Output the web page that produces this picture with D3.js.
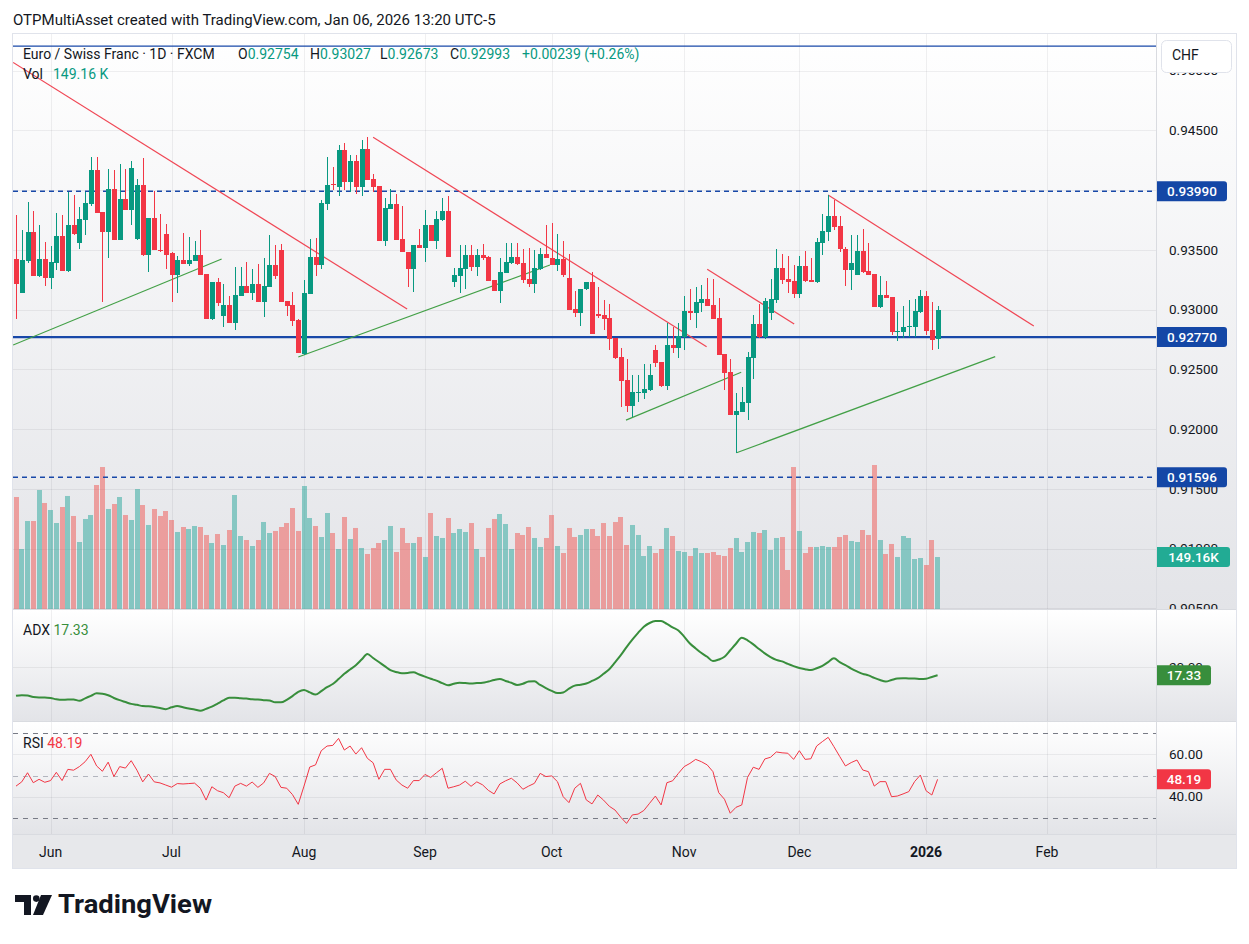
<!DOCTYPE html>
<html>
<head>
<meta charset="utf-8">
<script src="https://cdn.jsdelivr.net/npm/d3@7"></script>
<style>
  body { margin: 0; background: #fff; }
  svg text { font-family: Roboto, "Liberation Sans", "DejaVu Sans", sans-serif; }
</style>
</head>
<body>
<div id="chart"></div>
<script>
// EUR/CHF daily, 23 May 2025 .. 6 Jan 2026 (161 bars, index 0 = first visible bar)
const opens = [
  0.93423,0.93141,0.93409,0.93649,0.93283,0.93423,0.93267,0.93392,0.93615,0.93325,
  0.93707,0.93560,0.93752,0.93886,0.94168,0.93816,0.93649,0.94009,0.93585,0.93925,
  0.93833,0.93590,0.94042,0.93456,0.93766,0.93498,0.93632,0.93473,0.93289,0.93415,
  0.93384,0.93409,0.93456,0.93297,0.92921,0.93230,0.92949,0.93038,0.92887,0.93116,
  0.93197,0.93138,0.93214,0.93063,0.93189,0.93373,0.93498,0.93071,0.93038,0.92913,
  0.92628,0.93130,0.93440,0.93375,0.93886,0.94048,0.94025,0.94335,0.94067,0.94243,
  0.94025,0.94343,0.94092,0.94034,0.93574,0.93841,0.93883,0.93590,0.93481,0.93339,
  0.93540,0.93515,0.93707,0.93574,0.93749,0.93825,0.93230,0.93283,0.93342,0.93456,
  0.93356,0.93456,0.93440,0.93247,0.93158,0.93309,0.93392,0.93440,0.93389,0.93256,
  0.93217,0.93339,0.93465,0.93431,0.93373,0.93423,0.93264,0.93005,0.92971,0.93172,
  0.93230,0.92963,0.92954,0.92929,0.92762,0.92603,0.92410,0.92193,0.92307,0.92302,
  0.92327,0.92661,0.92561,0.92360,0.92703,0.92681,0.92773,0.92988,0.92971,0.93058,
  0.93088,0.93038,0.92929,0.92628,0.92477,0.92118,0.92143,0.92218,0.92595,0.92879,
  0.92770,0.92971,0.93080,0.93348,0.93256,0.93239,0.93130,0.93364,0.93247,0.93230,
  0.93557,0.93652,0.93783,0.93699,0.93507,0.93331,0.93289,0.93490,0.93322,0.93297,
  0.93021,0.93122,0.93105,0.92815,0.92812,0.92857,0.92854,0.92979,0.93113,0.92829,
  0.92754
];
const highs = [
  0.93791,0.93666,0.93900,0.93825,0.93707,0.93565,0.93532,0.93805,0.93791,0.93983,
  0.93958,0.93858,0.93983,0.94276,0.94276,0.93820,0.94176,0.94168,0.94218,0.94176,
  0.94243,0.94092,0.94268,0.93766,0.93992,0.93799,0.93716,0.93478,0.93448,0.93640,
  0.93607,0.93574,0.93666,0.93300,0.93232,0.93264,0.93214,0.93113,0.93356,0.93356,
  0.93398,0.93339,0.93381,0.93431,0.93624,0.93540,0.93548,0.93075,0.93147,0.92917,
  0.93247,0.93590,0.93599,0.93920,0.94276,0.94193,0.94377,0.94393,0.94293,0.94293,
  0.94419,0.94444,0.94134,0.94038,0.93933,0.94009,0.93967,0.93866,0.93485,0.93540,
  0.93674,0.93833,0.93710,0.93825,0.93933,0.93950,0.93348,0.93540,0.93540,0.93540,
  0.93507,0.93548,0.93444,0.93250,0.93431,0.93557,0.93557,0.93557,0.93507,0.93515,
  0.93498,0.93515,0.93707,0.93724,0.93632,0.93574,0.93465,0.93155,0.93175,0.93232,
  0.93314,0.93189,0.93080,0.93046,0.92766,0.92678,0.92586,0.92452,0.92452,0.92544,
  0.92544,0.92703,0.92565,0.92887,0.92854,0.92887,0.93113,0.93172,0.93189,0.93205,
  0.93264,0.93256,0.93097,0.92632,0.92586,0.92302,0.92352,0.92645,0.92954,0.93046,
  0.93097,0.93256,0.93507,0.93465,0.93448,0.93373,0.93448,0.93490,0.93431,0.93599,
  0.93799,0.93958,0.93917,0.93783,0.93526,0.93624,0.93624,0.93674,0.93557,0.93300,
  0.93281,0.93239,0.93108,0.92979,0.93030,0.93080,0.93088,0.93163,0.93155,0.93063,
  0.93027
];
const lows = [
  0.92921,0.93138,0.93387,0.93280,0.93275,0.93200,0.93175,0.93331,0.93320,0.93317,
  0.93628,0.93509,0.93624,0.93866,0.93805,0.93066,0.93431,0.93580,0.93582,0.93830,
  0.93707,0.93585,0.93450,0.93314,0.93495,0.93485,0.93339,0.93063,0.93138,0.93380,
  0.93364,0.93405,0.93285,0.92918,0.92913,0.93030,0.92857,0.92885,0.92829,0.93113,
  0.93136,0.93083,0.93060,0.92938,0.93186,0.93256,0.93060,0.92946,0.92862,0.92633,
  0.92620,0.93127,0.93283,0.93339,0.93833,0.94000,0.93950,0.94000,0.93983,0.93967,
  0.93950,0.94080,0.93983,0.93570,0.93532,0.93838,0.93580,0.93478,0.93189,0.93147,
  0.93515,0.93398,0.93570,0.93507,0.93745,0.93436,0.93189,0.93138,0.93175,0.93322,
  0.93281,0.93415,0.93235,0.93155,0.93055,0.93306,0.93381,0.93375,0.93222,0.93189,
  0.93138,0.93331,0.93428,0.93370,0.93322,0.93272,0.92993,0.92938,0.92862,0.93163,
  0.92792,0.92929,0.92829,0.92661,0.92590,0.92185,0.92143,0.92101,0.92226,0.92252,
  0.92320,0.92519,0.92355,0.92327,0.92636,0.92595,0.92661,0.92913,0.92846,0.92982,
  0.93028,0.92918,0.92616,0.92327,0.92114,0.91800,0.92140,0.92076,0.92419,0.92766,
  0.92753,0.92913,0.93055,0.93214,0.93138,0.93097,0.93097,0.93230,0.93228,0.93226,
  0.93456,0.93574,0.93666,0.93484,0.93197,0.93163,0.93285,0.93310,0.93285,0.93018,
  0.93013,0.93094,0.92787,0.92737,0.92762,0.92773,0.92770,0.92975,0.92787,0.92661,
  0.92673
];
const closes = [
  0.93217,0.93415,0.93649,0.93283,0.93423,0.93267,0.93398,0.93615,0.93325,0.93707,
  0.93632,0.93758,0.93891,0.94168,0.93811,0.93649,0.94009,0.93585,0.93925,0.93833,
  0.94184,0.94042,0.93456,0.93766,0.93498,0.93490,0.93456,0.93289,0.93415,0.93384,
  0.93415,0.93456,0.93289,0.92921,0.93230,0.93058,0.93038,0.92887,0.93122,0.93197,
  0.93138,0.93214,0.93063,0.93197,0.93373,0.93281,0.93063,0.93030,0.92904,0.92636,
  0.93138,0.93440,0.93373,0.93891,0.94042,0.94042,0.94335,0.94067,0.94243,0.94025,
  0.94343,0.94084,0.94025,0.93574,0.93850,0.93883,0.93582,0.93481,0.93339,0.93540,
  0.93518,0.93707,0.93574,0.93758,0.93825,0.93440,0.93289,0.93348,0.93456,0.93356,
  0.93456,0.93431,0.93239,0.93158,0.93314,0.93398,0.93440,0.93381,0.93247,0.93217,
  0.93348,0.93465,0.93431,0.93373,0.93423,0.93289,0.92996,0.92971,0.93172,0.93230,
  0.92795,0.92946,0.92921,0.92753,0.92595,0.92402,0.92193,0.92310,0.92312,0.92335,
  0.92452,0.92553,0.92360,0.92703,0.92681,0.92779,0.92988,0.92971,0.93063,0.93088,
  0.93032,0.92921,0.92620,0.92469,0.92118,0.92151,0.92226,0.92603,0.92879,0.92770,
  0.93071,0.93088,0.93348,0.93247,0.93233,0.93130,0.93364,0.93239,0.93230,0.93565,
  0.93657,0.93783,0.93693,0.93507,0.93331,0.93389,0.93490,0.93314,0.93289,0.93021,
  0.93122,0.93097,0.92812,0.92820,0.92854,0.92862,0.92988,0.93113,0.92820,0.92745,
  0.92993
];
// volume in thousands
const volumes = [
  321.3,172.1,252.4,252.4,341.4,304.1,284.0,246.7,292.6,324.2,
  266.8,192.2,258.2,269.6,355.7,407.3,286.9,301.2,321.3,269.6,
  255.3,344.2,298.3,241.0,286.9,266.8,281.1,255.3,220.9,235.2,
  229.5,238.1,235.2,212.3,189.3,215.1,183.6,226.6,327.0,209.4,
  197.9,180.7,197.9,249.6,218.0,223.8,235.2,246.7,289.7,223.8,
  352.8,261.0,238.1,206.5,275.4,218.0,172.1,263.9,200.8,232.4,
  175.0,157.8,175.0,189.3,197.9,238.1,163.5,232.4,189.3,189.3,
  206.5,149.2,275.4,209.4,203.7,261.0,218.0,229.5,220.9,246.7,
  172.1,149.2,232.4,258.2,272.5,243.8,172.1,218.0,212.3,235.2,
  203.7,177.9,203.7,269.6,180.7,160.6,232.4,206.5,212.3,229.5,
  229.5,209.4,246.7,209.4,249.6,263.9,183.6,241.0,212.3,152.0,
  180.7,160.6,172.1,232.4,209.4,166.4,163.5,152.0,175.0,160.6,
  160.6,163.5,154.9,152.0,175.0,203.7,163.5,192.2,220.9,218.0,
  226.6,169.2,203.7,206.5,111.9,407.3,223.8,160.6,177.9,177.9,
  180.7,177.9,177.9,206.5,212.3,195.1,192.2,226.6,212.3,413.1,
  197.9,157.8,186.5,149.2,209.4,203.7,143.4,146.3,126.2,197.9,
  149.16
];
const adxValues = [
  10.7,10.9,10.8,10.3,10.2,10.2,10.0,9.6,9.4,9.5,
  9.5,9.1,9.9,10.7,11.5,11.4,10.9,10.0,9.3,8.7,
  8.1,7.8,7.4,7.3,7.1,6.8,6.4,7.0,7.4,7.0,
  6.6,6.3,5.9,6.5,7.2,8.2,9.2,10.1,10.1,9.9,
  9.8,9.6,9.5,9.3,9.2,8.6,8.6,9.4,10.6,12.0,
  12.6,11.8,11.1,12.2,13.5,14.5,16.1,17.8,19.2,20.6,
  22.4,24.2,22.9,21.6,20.3,19.0,18.4,18.0,18.1,18.3,
  17.6,16.9,16.2,15.6,14.8,14.1,14.6,14.9,14.8,14.7,
  14.8,14.9,15.3,15.8,16.1,15.5,14.9,14.2,14.6,15.3,
  15.4,14.2,13.2,12.3,11.6,11.8,13.0,14.0,14.3,14.7,
  15.5,16.4,17.8,19.3,21.5,23.8,26.4,28.8,31.0,33.0,
  34.2,34.8,34.8,33.9,32.8,31.8,29.8,27.6,26.0,24.5,
  23.3,21.9,22.4,23.3,25.4,27.5,29.4,28.6,27.3,25.8,
  24.4,23.2,22.3,21.8,21.0,20.3,19.7,19.3,19.0,19.6,
  20.4,21.6,22.8,21.6,20.6,19.5,18.6,17.8,17.3,16.5,
  15.8,15.3,15.8,16.3,16.4,16.3,16.3,16.1,16.2,16.8,
  17.33
];
const rsiValues = [
  45.0,47.0,51.3,46.6,48.2,46.8,47.6,51.5,47.6,52.9,
  52.5,54.2,56.5,60.0,54.5,52.0,56.3,49.5,54.2,53.5,
  57.0,52.5,47.0,50.7,47.0,46.5,45.5,44.5,46.2,46.0,
  46.2,46.4,44.0,38.4,44.7,42.8,41.9,39.5,45.0,46.3,
  45.0,46.9,44.4,46.5,51.0,49.5,44.4,44.0,41.0,36.4,
  45.0,54.0,55.0,61.7,63.9,64.2,67.5,62.0,63.9,60.1,
  63.1,58.1,56.0,48.2,52.9,52.9,47.9,45.5,44.0,47.6,
  47.6,50.5,49.1,51.3,53.4,44.0,44.7,45.5,47.3,44.9,
  47.0,45.6,43.0,41.3,46.0,47.5,48.7,46.5,43.5,45.0,
  46.3,51.0,49.5,49.8,47.1,40.0,37.2,44.0,46.3,38.5,
  36.6,40.8,38.4,35.5,33.7,30.3,27.4,31.4,31.8,33.5,
  36.9,40.3,36.1,46.6,47.5,51.0,54.2,55.7,57.6,56.5,
  55.0,51.8,41.9,38.8,32.2,35.0,36.1,49.1,53.9,52.9,
  57.8,58.6,61.1,60.7,60.5,57.6,61.7,57.6,57.9,63.9,
  66.0,68.0,63.6,59.0,54.5,56.1,57.3,52.6,51.8,45.0,
  47.1,47.1,40.0,40.3,41.3,42.4,47.1,50.2,42.8,40.8,
  48.19
];

// time axis: label and bar index of first bar of that month
const monthLabels = ['Jun', 'Jul', 'Aug', 'Sep', 'Oct', 'Nov', 'Dec', '2026', 'Feb'];
const monthIndex = [6, 27, 50, 71, 93, 116, 136, 158, 179];

const priceTicks = [0.95, 0.945, 0.94, 0.935, 0.93, 0.925, 0.92, 0.915, 0.91, 0.905];

// horizontal levels drawn on the chart
const levelPrices = [0.95205, 0.9399, 0.9277, 0.91596];

// trend lines: [barIndex1, price1, barIndex2, price2]
const redTrendLines = [
  [-0.5, 0.95068, 67.9, 0.93004],
  [62.0, 0.94441, 119.9, 0.92689],
  [120.0, 0.93337, 135.1, 0.92879],
  [141.0, 0.93958, 176.7, 0.92862]
];
const greenTrendLines = [
  [-0.5, 0.92703, 35.7, 0.93423],
  [49.0, 0.92603, 92.7, 0.93373],
  [105.9, 0.92075, 125.9, 0.92475],
  [125.1, 0.91802, 170.0, 0.92606]
];

const UP = '#089981', DOWN = '#f23645';
const BLUE = '#1848a8';
const LEFT = 13, PANE_R = 1156, AXIS_R = 1236;
const MAIN = [34, 609], ADX = [610, 721], RSI = [722, 834], TIME = [835, 868];

const svg = d3.select('#chart').append('svg')
  .attr('width', 1249).attr('height', 944)
  .style('display', 'block');

const defs = svg.append('defs');
const grad = defs.append('linearGradient').attr('id', 'bg')
  .attr('x1', 0).attr('y1', 0).attr('x2', 0).attr('y2', 1);
grad.append('stop').attr('offset', '0%').attr('stop-color', '#ffffff');
grad.append('stop').attr('offset', '100%').attr('stop-color', '#e3e4e8');

function clip(id, y0, y1) {
  defs.append('clipPath').attr('id', id).append('rect')
    .attr('x', LEFT).attr('y', y0).attr('width', PANE_R - LEFT).attr('height', y1 - y0);
}
clip('clipMain', MAIN[0], MAIN[1]);
clip('clipAdx', ADX[0], ADX[1]);
clip('clipRsi', RSI[0], RSI[1]);
defs.append('clipPath').attr('id', 'clipAxis').append('rect')
  .attr('x', PANE_R).attr('y', MAIN[0]).attr('width', AXIS_R - PANE_R).attr('height', MAIN[1] - MAIN[0]);

// pane backgrounds
[MAIN, ADX, RSI].forEach((p) => {
  svg.append('rect').attr('x', LEFT).attr('y', p[0]).attr('width', AXIS_R - LEFT)
    .attr('height', p[1] - p[0]).attr('fill', 'url(#bg)');
});
svg.append('rect').attr('x', LEFT).attr('y', TIME[0]).attr('width', AXIS_R - LEFT)
  .attr('height', TIME[1] - TIME[0]).attr('fill', '#e7e8eb');

// scales
const x = d3.scaleLinear().domain([0, 179]).range([16, 16 + 179 * 5.76]);
const y = d3.scaleLinear().domain([0.90494, 0.95306]).range([MAIN[1], MAIN[0]]);
const yVol = d3.scaleLinear().domain([0, 413.1]).range([MAIN[1], 465]);
const yAdx = d3.scaleLinear().domain([0, 40]).range([729, 605]);
const yRsi = d3.scaleLinear().domain([0, 100]).range([881.5, 669.5]);

const bars = opens.map((o, i) => ({
  i, o, h: highs[i], l: lows[i], c: closes[i], v: volumes[i],
  up: closes[i] >= o
}));

const gridColor = 'rgba(42,46,57,0.07)';

// vertical grid lines in all panes
const grid = svg.append('g');
monthIndex.forEach((mi) => {
  const gx = Math.round(x(mi)) + 0.5;
  [MAIN, ADX, RSI].forEach((p) => {
    grid.append('line').attr('x1', gx).attr('x2', gx).attr('y1', p[0]).attr('y2', p[1])
      .attr('stroke', gridColor);
  });
});
// horizontal grid
priceTicks.forEach((t) => {
  const gy = Math.round(y(t)) + 0.5;
  if (gy > MAIN[0] && gy < MAIN[1]) {
    grid.append('line').attr('x1', LEFT).attr('x2', PANE_R).attr('y1', gy).attr('y2', gy)
      .attr('stroke', gridColor);
  }
});
grid.append('line').attr('x1', LEFT).attr('x2', PANE_R)
  .attr('y1', Math.round(yAdx(20)) + 0.5).attr('y2', Math.round(yAdx(20)) + 0.5).attr('stroke', gridColor);
[60, 40].forEach((t) => {
  const gy = Math.round(yRsi(t)) + 0.5;
  grid.append('line').attr('x1', LEFT).attr('x2', PANE_R).attr('y1', gy).attr('y2', gy).attr('stroke', gridColor);
});

// main pane content
const main = svg.append('g').attr('clip-path', 'url(#clipMain)');

main.append('g').selectAll('rect').data(bars).join('rect')
  .attr('x', (d) => Math.round(x(d.i) - 2.4))
  .attr('width', 5)
  .attr('y', (d) => yVol(d.v))
  .attr('height', (d) => MAIN[1] - yVol(d.v))
  .attr('fill', (d) => (d.up ? 'rgba(38,166,154,0.5)' : 'rgba(239,83,80,0.5)'));

// levels
const lv = main.append('g');
lv.append('line').attr('x1', LEFT).attr('x2', PANE_R)
  .attr('y1', y(levelPrices[0])).attr('y2', y(levelPrices[0]))
  .attr('stroke', BLUE).attr('stroke-width', 1.3);
[1, 3].forEach((k) => {
  lv.append('line').attr('x1', LEFT).attr('x2', PANE_R)
    .attr('y1', y(levelPrices[k])).attr('y2', y(levelPrices[k]))
    .attr('stroke', BLUE).attr('stroke-width', 1.6).attr('stroke-dasharray', '5,4');
});
lv.append('line').attr('x1', LEFT).attr('x2', PANE_R)
  .attr('y1', y(levelPrices[2])).attr('y2', y(levelPrices[2]))
  .attr('stroke', BLUE).attr('stroke-width', 2.2);

// trend lines
function trend(g, arr, color) {
  g.selectAll(null).data(arr).join('line')
    .attr('x1', (d) => x(d[0])).attr('y1', (d) => y(d[1]))
    .attr('x2', (d) => x(d[2])).attr('y2', (d) => y(d[3]))
    .attr('stroke', color).attr('stroke-width', 1.2);
}
trend(main.append('g'), redTrendLines, '#f04654');
trend(main.append('g'), greenTrendLines, '#43a047');

// candles
const cg = main.append('g').attr('shape-rendering', 'crispEdges');
cg.selectAll('rect.wick').data(bars).join('rect').attr('class', 'wick')
  .attr('x', (d) => Math.round(x(d.i)))
  .attr('width', 1)
  .attr('y', (d) => y(d.h))
  .attr('height', (d) => Math.max(1, y(d.l) - y(d.h)))
  .attr('fill', (d) => (d.up ? UP : DOWN));
cg.selectAll('rect.body').data(bars).join('rect').attr('class', 'body')
  .attr('x', (d) => Math.round(x(d.i)) - 2)
  .attr('width', 5)
  .attr('y', (d) => y(Math.max(d.o, d.c)))
  .attr('height', (d) => Math.max(1, Math.abs(y(d.o) - y(d.c))))
  .attr('fill', (d) => (d.up ? UP : DOWN));

// ADX
const adxG = svg.append('g').attr('clip-path', 'url(#clipAdx)');
adxG.append('path').datum(adxValues)
  .attr('d', d3.line().x((d, i) => x(i)).y((d) => yAdx(d)).curve(d3.curveMonotoneX))
  .attr('fill', 'none').attr('stroke', '#388e3c').attr('stroke-width', 2);

// RSI
const rsiG = svg.append('g').attr('clip-path', 'url(#clipRsi)');
[[70, '#787b86'], [50, '#b2b5be'], [30, '#787b86']].forEach(([lvl, col]) => {
  const ly = Math.round(yRsi(lvl)) + 0.5;
  rsiG.append('line').attr('x1', LEFT).attr('x2', PANE_R).attr('y1', ly).attr('y2', ly)
    .attr('stroke', col).attr('stroke-dasharray', '5,5');
});
rsiG.append('path').datum(rsiValues)
  .attr('d', d3.line().x((d, i) => x(i)).y((d) => yRsi(d)))
  .attr('fill', 'none').attr('stroke', '#f23645').attr('stroke-width', 1);

// separators and frame
const sep = svg.append('g').attr('stroke', '#d9dbe0').attr('shape-rendering', 'crispEdges');
[MAIN[1], ADX[1], RSI[1]].forEach((sy) => {
  sep.append('line').attr('x1', LEFT).attr('x2', AXIS_R).attr('y1', sy + 0.5).attr('y2', sy + 0.5);
});
sep.append('line').attr('x1', PANE_R + 0.5).attr('x2', PANE_R + 0.5).attr('y1', MAIN[0]).attr('y2', TIME[1]);
svg.append('rect').attr('x', LEFT - 0.5).attr('y', MAIN[0] - 0.5)
  .attr('width', AXIS_R - LEFT + 1).attr('height', TIME[1] - MAIN[0] + 1)
  .attr('fill', 'none').attr('stroke', '#e0e3eb');

// price axis ticks (some sit under the level tags, as on the original)
const axisG = svg.append('g').attr('clip-path', 'url(#clipAxis)');
axisG.selectAll('text').data(priceTicks).join('text')
  .attr('x', 1169).attr('y', (d) => y(d)).attr('dy', '0.35em')
  .attr('font-size', 13.5).attr('fill', '#131722')
  .text((d) => d3.format('.5f')(d));

svg.append('text').attr('x', 1169).attr('y', yAdx(20)).attr('dy', '0.35em')
  .attr('font-size', 13.5).attr('fill', '#131722').text('20.00');
[60, 40].forEach((t) => {
  svg.append('text').attr('x', 1169).attr('y', yRsi(t)).attr('dy', '0.35em')
    .attr('font-size', 13.5).attr('fill', '#131722').text(d3.format('.2f')(t));
});

function tag(cy, txt, color, w) {
  const g = svg.append('g');
  g.append('path')
    .attr('d', `M${PANE_R + 1},${cy - 10} h${w - 3} a3,3 0 0 1 3,3 v14 a3,3 0 0 1 -3,3 h${-(w - 3)} Z`)
    .attr('fill', color);
  g.append('text').attr('x', PANE_R + 1 + w / 2).attr('y', cy).attr('dy', '0.35em')
    .attr('text-anchor', 'middle').attr('font-size', 13.5).attr('font-weight', 500)
    .attr('fill', '#fff').text(txt);
}
tag(y(levelPrices[1]), d3.format('.5f')(levelPrices[1]), '#1447a6', 70);
tag(y(levelPrices[2]), d3.format('.5f')(levelPrices[2]), '#1447a6', 70);
tag(y(levelPrices[3]), d3.format('.5f')(levelPrices[3]), '#1447a6', 70);
tag(yVol(volumes[volumes.length - 1]), d3.format('.2f')(volumes[volumes.length - 1]) + 'K', '#22ab94', 73);
tag(yAdx(adxValues[adxValues.length - 1]), d3.format('.2f')(adxValues[adxValues.length - 1]), '#388e3c', 54);
tag(yRsi(rsiValues[rsiValues.length - 1]), d3.format('.2f')(rsiValues[rsiValues.length - 1]), '#f23645', 54);

// currency box (covers most of the top tick, as on the original)
svg.append('rect').attr('x', 1161.5).attr('y', 40.5).attr('width', 70).attr('height', 32).attr('rx', 5)
  .attr('fill', '#fff').attr('stroke', '#e0e3eb');
svg.append('text').attr('x', 1172).attr('y', 55).attr('dy', '0.35em')
  .attr('font-size', 14).attr('fill', '#131722').text('CHF');

// time axis labels
svg.append('g').selectAll('text').data(monthLabels).join('text')
  .attr('x', (d, i) => x(monthIndex[i])).attr('y', 852).attr('dy', '0.35em')
  .attr('text-anchor', 'middle').attr('font-size', 14)
  .attr('font-weight', (d) => (d === '2026' ? 700 : 400))
  .attr('fill', '#131722').text((d) => d);

// legends
const last = bars[bars.length - 1];
const head = svg.append('g').attr('font-size', 14);
head.append('text').attr('x', 23).attr('y', 54).attr('dy', '0.35em').attr('fill', '#131722')
  .text('Euro / Swiss Franc · 1D · FXCM');
const ohlcLabels = ['O', 'H', 'L', 'C'];
const ohlcVals = [last.o, last.h, last.l, last.c];
const ohlcX = [238, 310, 380, 450];
ohlcLabels.forEach((lab, k) => {
  const t = head.append('text').attr('x', ohlcX[k]).attr('y', 54).attr('dy', '0.35em');
  t.append('tspan').attr('fill', '#131722').text(lab);
  t.append('tspan').attr('fill', UP).text(d3.format('.5f')(ohlcVals[k]));
});
head.append('text').attr('x', 522).attr('y', 54).attr('dy', '0.35em').attr('fill', UP)
  .text('+0.00239 (+0.26%)');
head.append('text').attr('x', 23).attr('y', 74).attr('dy', '0.35em').attr('fill', '#131722').text('Vol');
head.append('text').attr('x', 53).attr('y', 74).attr('dy', '0.35em').attr('fill', UP).text('149.16 K');

const adxLab = svg.append('text').attr('x', 23).attr('y', 630).attr('dy', '0.35em').attr('font-size', 14);
adxLab.append('tspan').attr('fill', '#131722').text('ADX ');
adxLab.append('tspan').attr('fill', '#388e3c').text(' ' + d3.format('.2f')(adxValues[adxValues.length - 1]));
const rsiLab = svg.append('text').attr('x', 23).attr('y', 743).attr('dy', '0.35em').attr('font-size', 14);
rsiLab.append('tspan').attr('fill', '#131722').text('RSI ');
rsiLab.append('tspan').attr('fill', '#f23645').text(' ' + d3.format('.2f')(rsiValues[rsiValues.length - 1]));

// title
svg.append('text').attr('x', 13).attr('y', 20).attr('dy', '0.35em').attr('font-size', 15)
  .attr('fill', '#131722').text('OTPMultiAsset created with TradingView.com, Jan 06, 2026 13:20 UTC-5');

// logo
const logo = svg.append('g').attr('fill', '#131722');
logo.append('path').attr('d', 'M15,895 H31 V915 H24 V902 H15 Z');
logo.append('circle').attr('cx', 36.3).attr('cy', 898.6).attr('r', 3.3);
logo.append('path').attr('d', 'M41,895 H52 L43,915 H33 Z');
logo.append('text').attr('x', 58).attr('y', 913).attr('font-size', 25).attr('font-weight', 700)
  .attr('textLength', 154).attr('lengthAdjust', 'spacingAndGlyphs').text('TradingView');
</script>
</body>
</html>
